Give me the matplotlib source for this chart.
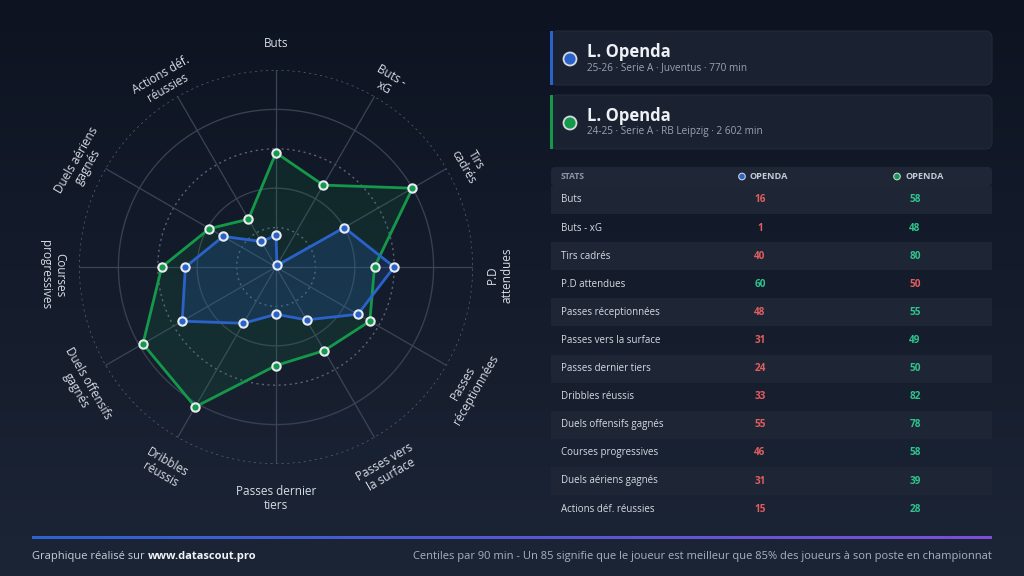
import numpy as np
import matplotlib.pyplot as plt
from matplotlib.patches import FancyBboxPatch, Rectangle, Circle
from matplotlib.colors import LinearSegmentedColormap
from matplotlib.transforms import offset_copy

plt.rcParams["font.family"] = ["Open Sans", "DejaVu Sans"]

# data
radar_labels = ["Buts", "Buts -\nxG", "Tirs\ncadrés", "P.D\nattendues",
                "Passes\nréceptionnées", "Passes vers\nla surface",
                "Passes dernier\ntiers", "Dribbles\nréussis",
                "Duels offensifs\ngagnés", "Courses\nprogressives",
                "Duels aériens\ngagnés", "Actions déf.\nréussies"]
table_labels = ["Buts", "Buts - xG", "Tirs cadrés", "P.D attendues",
                "Passes réceptionnées", "Passes vers la surface",
                "Passes dernier tiers", "Dribbles réussis",
                "Duels offensifs gagnés", "Courses progressives",
                "Duels aériens gagnés", "Actions déf. réussies"]
blue_vals = [16, 1, 40, 60, 48, 31, 24, 33, 55, 46, 31, 15]
green_vals = [58, 48, 80, 50, 55, 49, 50, 82, 78, 58, 39, 28]

player_names = ["L. Openda", "L. Openda"]
player_infos = ["25-26 · Serie A · Juventus · 770 min",
                "24-25 · Serie A · RB Leipzig · 2 602 min"]
col_header = "OPENDA"

c_blue = "#2a62c9"
c_green = "#14994a"
c_up = "#2fc48c"
c_down = "#e25d5f"
txt_soft = "#9aa3b3"

fig = plt.figure(figsize=(10.24, 5.76), dpi=100)

# background frame in pixel coords
bg = fig.add_axes([0, 0, 1, 1], zorder=0)
bg.set_xlim(0, 1024)
bg.set_ylim(576, 0)
bg.axis("off")
grad = np.linspace(0, 1, 256).reshape(-1, 1)
bg_cmap = LinearSegmentedColormap.from_list("bg", ["#0d1321", "#1c2536"])
bg.imshow(grad, extent=[0, 1024, 576, 0], aspect="auto", cmap=bg_cmap, zorder=0)

# radar
n = len(radar_labels)
angles = np.arange(n) * 2 * np.pi / n
ax = fig.add_axes([79 / 1024, 112 / 576, 394 / 1024, 394 / 576],
                  projection="polar", zorder=2)
ax.set_facecolor("none")
ax.set_theta_zero_location("N")
ax.set_theta_direction(-1)
ax.set_ylim(0, 100)
ax.set_xticks([])
ax.set_yticks([])
ax.grid(False)
ax.spines["polar"].set_visible(False)

circ = np.linspace(0, 2 * np.pi, 400)
for r in [20, 40, 60, 80, 100]:
    if r in (20, 60, 100):
        ax.plot(circ, [r] * len(circ), color="#5a6477", lw=1.0,
                dashes=(1.5, 2.5), zorder=1)
    else:
        ax.plot(circ, [r] * len(circ), color="#373f51", lw=1.0, zorder=1)
for a in angles:
    ax.plot([a, a], [0, 100], color="#3b4558", lw=0.9, zorder=1)

for vals, c, fa in [(green_vals, c_green, 0.13), (blue_vals, c_blue, 0.2)]:
    th = np.append(angles, angles[0])
    rv = np.append(vals, vals[0])
    ax.fill(th, rv, color=c, alpha=fa, lw=0, zorder=2)
    ax.plot(th, rv, color=c, lw=2.0, zorder=3)
    ax.plot(angles, vals, "o", ms=6, mfc=c, mec="#e8ebf0", mew=1.5,
            zorder=4, ls="none")

shift = offset_copy(ax.transData, fig=fig, x=0, y=-8, units="dots")
for a, lab in zip(angles, radar_labels):
    deg = np.degrees(a)
    if 90 <= deg <= 270:
        rot = 180 - deg
    else:
        rot = -deg
    tr = shift if "\n" in lab else ax.transData
    ax.text(a, 113.5, lab, rotation=rot, rotation_mode="anchor",
            ha="center", va="center", multialignment="center",
            fontsize=8.5, color="#d8dde5", clip_on=False, linespacing=1.1,
            transform=tr)

# player cards
fr = fig.add_axes([0, 0, 1, 1], zorder=3)
fr.set_xlim(0, 1024)
fr.set_ylim(576, 0)
fr.axis("off")

for i, (name, info, c) in enumerate(zip(player_names, player_infos,
                                         [c_blue, c_green])):
    y0 = 31 + i * 64
    fr.add_patch(FancyBboxPatch((551, y0), 441, 54,
                                boxstyle="round,pad=0,rounding_size=7",
                                fc="#1a2130", ec="#222a39", lw=0.8))
    fr.add_patch(Rectangle((550, y0), 3, 54, fc=c, ec="none"))
    fr.add_patch(Circle((570, y0 + 28), 6.5, fc=c, ec="#d5dae2", lw=1.3))
    fr.text(587, y0 + 21, name, fontsize=12, fontweight="bold",
            color="#eef1f5", va="center", ha="left")
    fr.text(587, y0 + 36.5, info, fontsize=7.2, color=txt_soft,
            va="center", ha="left")

# table
fr.add_patch(FancyBboxPatch((551, 167), 441, 19,
                            boxstyle="round,pad=0,rounding_size=4",
                            fc="#1f2737", ec="none"))
fr.text(561, 176.5, "STATS", fontsize=6.2, fontweight="bold",
        color="#8e97a7", va="center", ha="left")
for cx, c in [(742, c_blue), (897, c_green)]:
    fr.add_patch(Circle((cx, 176.5), 3.3, fc=c, ec="#c8cfdb", lw=0.8))
    fr.text(cx + 8, 176.5, col_header, fontsize=6.6, fontweight="bold",
            color="#c3cad6", va="center", ha="left")

row_h = 28.1
for i, (lab, b, g) in enumerate(zip(table_labels, blue_vals, green_vals)):
    yc = 200 + i * row_h
    if i % 2 == 0:
        fr.add_patch(Rectangle((551, yc - row_h / 2), 441, row_h,
                               fc="#1e2636", ec="none"))
    fr.text(561, yc, lab, fontsize=7, color="#d6dbe3", va="center",
            ha="left")
    cb, cg = (c_up, c_down) if b > g else (c_down, c_up)
    fr.text(760, yc, str(b), fontsize=7.2, fontweight="bold", color=cb,
            va="center", ha="center")
    fr.text(915, yc, str(g), fontsize=7.2, fontweight="bold", color=cg,
            va="center", ha="center")

# footer
line_cmap = LinearSegmentedColormap.from_list("ln", ["#2d63cf", "#7b4fd6"])
fr.imshow(np.linspace(0, 1, 256).reshape(1, -1), extent=[32, 992, 539.5, 537],
          aspect="auto", cmap=line_cmap, zorder=2)
fr.set_xlim(0, 1024)
fr.set_ylim(576, 0)
t1 = fr.text(32, 556, "Graphique réalisé sur ", fontsize=8, color="#c9cfda",
             va="center", ha="left")
fr.annotate("www.datascout.pro", xy=(1, 0.5), xycoords=t1, va="center",
            ha="left", fontsize=8, fontweight="bold", color="#f2f4f8")
fr.text(992, 556, "Centiles par 90 min - Un 85 signifie que le joueur est "
        "meilleur que 85% des joueurs à son poste en championnat",
        fontsize=8, color="#a9b1bf", va="center", ha="right")

fig.savefig("out.png", dpi=100)
